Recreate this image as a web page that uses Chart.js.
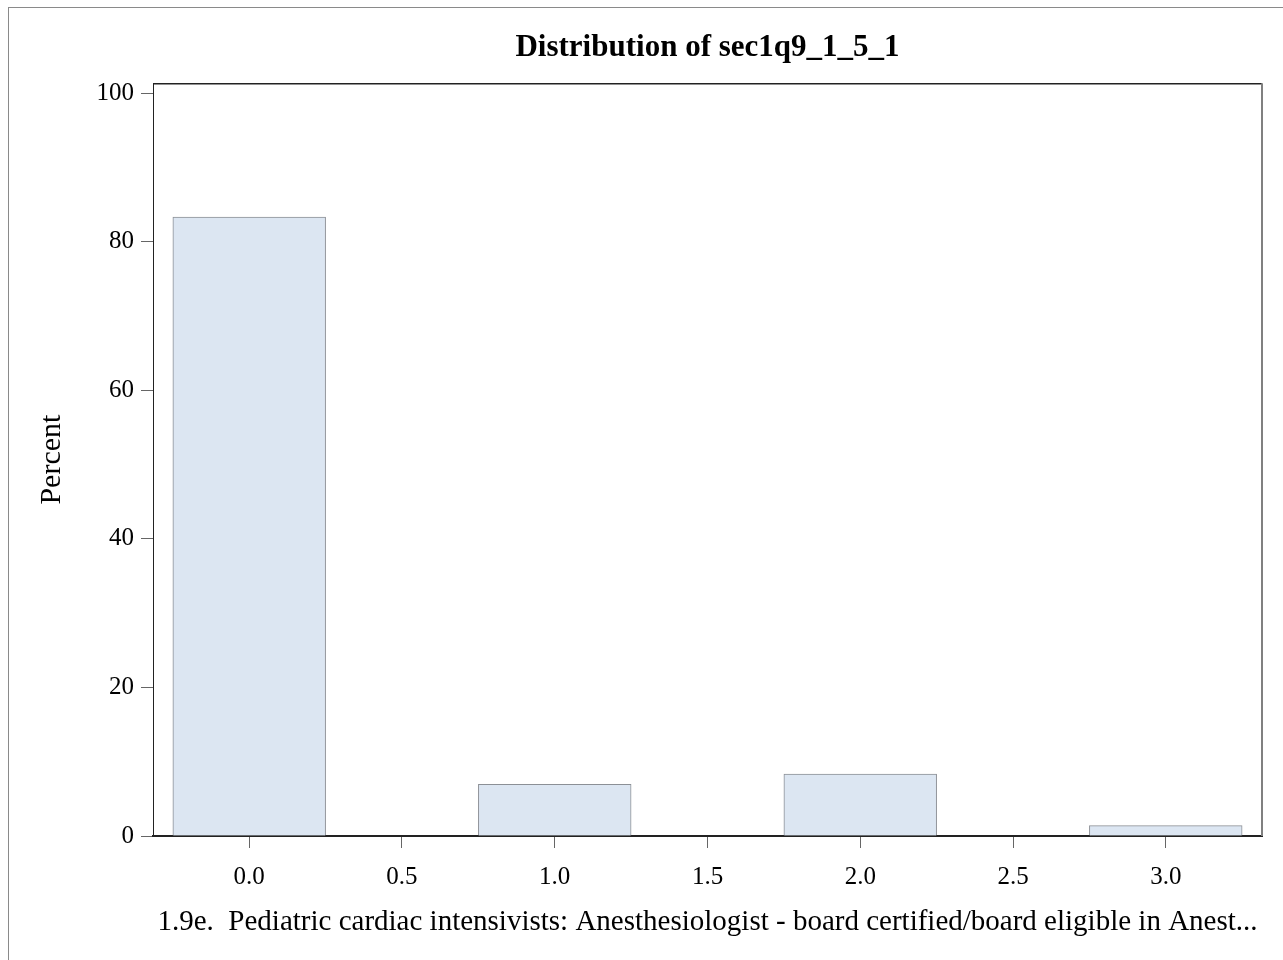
<!DOCTYPE html>
<html>
<head>
<meta charset="utf-8">
<script src="https://cdn.jsdelivr.net/npm/chart.js@4/dist/chart.umd.min.js"></script>
<style>
  html, body { margin: 0; padding: 0; background: #ffffff; overflow: hidden; }
  #wrap { position: relative; width: 1283px; height: 960px; }
  #frame { position: absolute; left: 8px; top: 7px; width: 1300px; height: 1000px; border: 1px solid #8a8a8a; box-sizing: border-box; pointer-events: none; }
  canvas { position: absolute; left: 0; top: 0; }
</style>
</head>
<body>
<div id="wrap">
  <canvas id="c" width="1283" height="960"></canvas>
  <div id="frame"></div>
</div>
<script>
// ---- data ----
const chartTitle = "Distribution of sec1q9_1_5_1";
const xAxisTitle = "1.9e.  Pediatric cardiac intensivists: Anesthesiologist - board certified/board eligible in Anest...";
const yAxisTitle = "Percent";
const binCenters = [0, 1, 2, 3];
const percents = [83.33, 6.94, 8.33, 1.39];
const xTickValues = [0, 0.5, 1.0, 1.5, 2.0, 2.5, 3.0];
const yTickValues = [0, 20, 40, 60, 80, 100];

const FONT = "'Liberation Serif', 'Times New Roman', serif";

const framePlugin = {
  id: 'frame',
  afterDatasetsDraw(chart) {
    const {ctx, chartArea: a} = chart;
    ctx.save();
    ctx.strokeStyle = '#222222';
    ctx.lineWidth = 1.5;
    ctx.beginPath();
    ctx.moveTo(a.left, a.top + 0.5);
    ctx.lineTo(a.right, a.top + 0.5);
    ctx.stroke();
    ctx.strokeStyle = '#808080';
    ctx.lineWidth = 2;
    ctx.beginPath();
    ctx.moveTo(a.right, a.top);
    ctx.lineTo(a.right, a.bottom);
    ctx.stroke();
    ctx.restore();
  }
};

new Chart(document.getElementById('c'), {
  type: 'bar',
  data: {
    datasets: [{
      data: binCenters.map((x, i) => ({x: x, y: percents[i]})),
      backgroundColor: '#dce6f2',
      borderColor: '#8c9096',
      borderWidth: 1,
      categoryPercentage: 1,
      barPercentage: 1
    }]
  },
  options: {
    responsive: false,
    animation: false,
    layout: { padding: { left: 0, right: 21, top: 0, bottom: 0 } },
    plugins: {
      legend: { display: false },
      tooltip: { enabled: false },
      title: {
        display: true,
        fullSize: false,
        text: chartTitle,
        color: '#000000',
        font: { family: FONT, size: 31, weight: 'bold' },
        padding: { top: 29, bottom: 17 }
      }
    },
    scales: {
      x: {
        type: 'linear',
        offset: false,
        min: -0.315,
        max: 3.315,
        afterBuildTicks(scale) { scale.ticks = xTickValues.map(v => ({value: v})); },
        afterFit(scale) { scale.height = 124; },
        ticks: {
          color: '#000000',
          font: { family: FONT, size: 25 },
          padding: 14,
          maxRotation: 0,
          autoSkip: false,
          callback: v => Number(v).toFixed(1)
        },
        grid: { display: true, offset: false, drawOnChartArea: false, drawTicks: true, tickLength: 12, color: '#666666', tickWidth: 1 },
        border: { display: true, color: '#222222', width: 2 },
        title: {
          display: true,
          text: xAxisTitle,
          color: '#000000',
          font: { family: FONT, size: 29 },
          padding: { top: 0, bottom: 20 }
        }
      },
      y: {
        type: 'linear',
        min: 0,
        max: 101.35,
        afterBuildTicks(scale) { scale.ticks = yTickValues.map(v => ({value: v})); },
        afterFit(scale) { scale.width = 153; },
        ticks: {
          color: '#000000',
          font: { family: FONT, size: 25 },
          padding: 7,
          callback: v => String(v)
        },
        grid: { display: true, drawOnChartArea: false, drawTicks: true, tickLength: 12, color: '#666666', tickWidth: 1 },
        border: { display: true, color: '#222222', width: 1 },
        title: {
          display: true,
          text: yAxisTitle,
          color: '#000000',
          font: { family: FONT, size: 30 },
          padding: { top: 34, bottom: 0 }
        }
      }
    }
  },
  plugins: [framePlugin]
});
</script>
</body>
</html>
